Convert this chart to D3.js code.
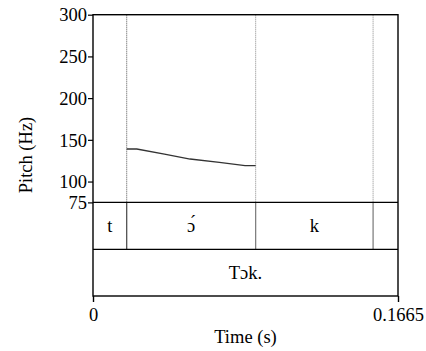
<!DOCTYPE html>
<html>
<head>
<meta charset="utf-8">
<script src="https://cdn.jsdelivr.net/npm/d3@7/dist/d3.min.js"></script>
<style>
  html, body { margin: 0; padding: 0; background: #fff; }
  svg { display: block; }
</style>
</head>
<body>
<svg id="chart" width="426" height="351"></svg>
<script>
// Pitch contour (time in s, F0 in Hz)
const pitchTimes = [0.0184, 0.0239, 0.0390, 0.0530, 0.0690, 0.0830, 0.0888];
const pitchHz    = [139,    139,    133,    127,    123,    119,    119];

// Segment tier: boundaries and labels
const segBounds = [0, 0.0184, 0.0888, 0.1529, 0.1665];
const segLabels = ["t", "ɔ́", "k", ""];

// Word tier
const wordBounds = [0, 0.1665];
const wordLabels = ["Tɔk."];

const pitchTicks = [75, 100, 150, 200, 250, 300];
const timeTicks = [0, 0.1665];

const svg = d3.select("#chart");
const L = 93, R = 398, T = 14.7, PB = 202.4, T1B = 249.3, T2B = 296;
const FS = "18.5px";
const FF = "'Liberation Serif', Tinos, 'Noto Serif', FreeSerif, 'DejaVu Serif', serif";

const x = d3.scaleLinear().domain([0, 0.1665]).range([L, R]);
const y = d3.scaleLinear().domain([75, 300]).range([PB, T]);

// Segment boundaries as dotted lines through the pitch area
svg.append("g").selectAll("line")
  .data(segBounds.slice(1, -1))
  .join("line")
  .attr("x1", d => x(d)).attr("x2", d => x(d))
  .attr("y1", T).attr("y2", PB)
  .attr("stroke", (d, i) => i === 0 ? "#555" : "#888")
  .attr("stroke-width", 1)
  .attr("stroke-dasharray", "1,1");

// Pitch contour
svg.append("path")
  .datum(pitchTimes.map((t, i) => [t, pitchHz[i]]))
  .attr("fill", "none")
  .attr("stroke", "#333")
  .attr("stroke-width", 1.3)
  .attr("d", d3.line().x(d => x(d[0])).y(d => y(d[1])));

// Segment tier boundaries (solid)
svg.append("g").selectAll("line")
  .data(segBounds.slice(1, -1))
  .join("line")
  .attr("x1", d => x(d)).attr("x2", d => x(d))
  .attr("y1", PB).attr("y2", T1B)
  .attr("stroke", (d, i) => i === 0 ? "#444" : "#777")
  .attr("stroke-width", 1.2);

// Tier separators
[PB, T1B].forEach(v => {
  svg.append("line")
    .attr("x1", L).attr("x2", R).attr("y1", v).attr("y2", v)
    .attr("stroke", "#000").attr("stroke-width", 1.2);
});

// Outer frame
svg.append("rect")
  .attr("x", L).attr("y", T).attr("width", R - L).attr("height", T2B - T)
  .attr("fill", "none").attr("stroke", "#000").attr("stroke-width", 1.4);

// Segment labels
svg.append("g").selectAll("text")
  .data(segLabels.map((s, i) => ({ s, a: segBounds[i], b: segBounds[i + 1] })))
  .join("text")
  .attr("x", d => (x(d.a) + x(d.b)) / 2)
  .attr("y", (PB + T1B) / 2)
  .attr("dy", "0.35em")
  .attr("text-anchor", "middle")
  .text(d => d.s);

// Word labels
svg.append("g").selectAll("text")
  .data(wordLabels.map((s, i) => ({ s, a: wordBounds[i], b: wordBounds[i + 1] })))
  .join("text")
  .attr("x", d => (x(d.a) + x(d.b)) / 2)
  .attr("y", (T1B + T2B) / 2)
  .attr("dy", "0.35em")
  .attr("text-anchor", "middle")
  .text(d => d.s);

// Pitch axis
const yAxis = svg.append("g")
  .attr("transform", `translate(${L},0)`)
  .call(d3.axisLeft(y).tickValues(pitchTicks).tickSize(5).tickPadding(1).tickFormat(d3.format("d")));
yAxis.select(".domain").remove();
yAxis.selectAll("line").attr("stroke", "#000").attr("stroke-width", 1.2);
yAxis.selectAll("text").attr("dy", "0.34em");

// Time axis
const xAxis = svg.append("g")
  .attr("transform", `translate(0,${T2B})`)
  .call(d3.axisBottom(x).tickValues(timeTicks).tickSize(6).tickPadding(6).tickFormat(d => d === 0 ? "0" : String(d)));
xAxis.select(".domain").remove();
xAxis.selectAll("line").attr("stroke", "#000").attr("stroke-width", 1.4);

// Axis titles
svg.append("text")
  .attr("transform", `translate(26,155) rotate(-90)`)
  .attr("text-anchor", "middle")
  .attr("dy", "0.35em")
  .text("Pitch (Hz)");

svg.append("text")
  .attr("x", (L + R) / 2)
  .attr("y", 336.7)
  .attr("dy", "0.35em")
  .attr("text-anchor", "middle")
  .text("Time (s)");

// Shared type for every label
svg.selectAll("g").attr("font-family", null).attr("font-size", null);
svg.selectAll("text")
  .style("font-family", FF)
  .style("font-size", FS)
  .style("fill", "#000");
</script>
</body>
</html>
